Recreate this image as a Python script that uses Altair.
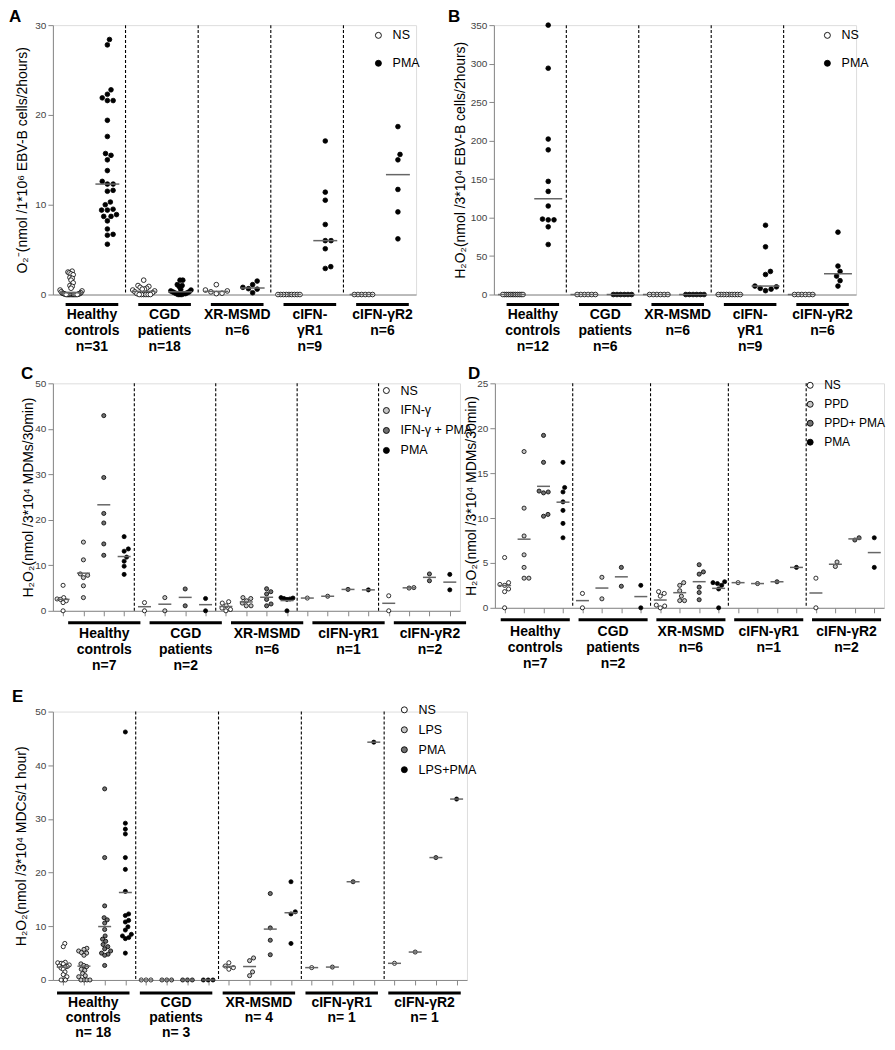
import math
import altair as alt
import pandas as pd

FONT = "Liberation Sans"

# ---------------- Panel A : O2- EBV-B cells ----------------
A_groups = ["Healthy\ncontrols\nn=31", "CGD\npatients\nn=18", "XR-MSMD\nn=6", "cIFN-\nγR1\nn=9", "cIFN-γR2\nn=6"]
A_conds = ["NS", "PMA"]
A_NS = [
    [2.6, 2.5, 2.4, 2.3, 2.2, 1.9, 1.8, 1.6, 1.3, 1.0, 0.9, 0.7, 0.5, 0.4, 0.3, 0.2,
     0.15, 0.1, 0.1, 0.05, 0.05, 0, 0, 0, 0, 0, 0, 0, 0, 0, 0],
    [1.6, 1.0, 0.9, 0.8, 0.7, 0.6, 0.6, 0.5, 0.4, 0.3, 0.2, 0.1, 0, 0, 0, 0, 0, 0],
    [1.1, 0.5, 0.4, 0.3, 0.15, 0.1],
    [0, 0, 0, 0, 0, 0, 0, 0, 0],
    [0, 0, 0, 0, 0, 0],
]
A_PMA = [
    [28.4, 27.8, 22.8, 22.3, 21.9, 21.6, 21.6, 19.4, 17.6, 15.7, 15.5, 15.0, 13.8, 12.6, 12.3, 12.3,
     11.6, 11.5, 10.3, 10.0, 9.5, 9.4, 9.4, 8.9, 8.7, 8.7, 8.2, 7.3, 6.7, 6.6, 5.6],
    [1.6, 1.6, 1.1, 1.0, 0.9, 0.6, 0.5, 0.4, 0.3, 0.3, 0.2, 0.2, 0.1, 0.1, 0.1, 0, 0, 0],
    [1.5, 1.1, 0.8, 0.65, 0.6, 0.2],
    [17.1, 11.4, 10.5, 7.8, 6.0, 6.0, 5.1, 3.1, 2.9],
    [18.7, 15.6, 15.0, 11.7, 9.2, 6.2],
]

# ---------------- Panel B : H2O2 EBV-B cells ----------------
B_groups = ["Healthy\ncontrols\nn=12", "CGD\npatients\nn=6", "XR-MSMD\nn=6", "cIFN-\nγR1\nn=9", "cIFN-γR2\nn=6"]
B_conds = ["NS", "PMA"]
B_NS = [
    [0, 0, 0, 0, 0, 0, 0, 0, 0, 0, 0, 0],
    [0, 0, 0, 0, 0, 0],
    [0, 0, 0, 0, 0, 0],
    [0, 0, 0, 0, 0, 0, 0, 0, 0],
    [0, 0, 0, 0, 0, 0],
]
B_PMA = [
    [350, 294, 202, 188, 147, 134, 115, 98, 97, 97, 88, 65],
    [0, 0, 0, 0, 0, 0],
    [0, 0, 0, 0, 0, 0],
    [90, 62, 30, 26, 11, 10, 8, 7, 5],
    [81, 37, 30, 24, 18, 11],
]

# ---------------- Panel C : H2O2 MDMs, IFN-gamma ----------------
C_groups = ["Healthy\ncontrols\nn=7", "CGD\npatients\nn=2", "XR-MSMD\nn=6", "cIFN-γR1\nn=1", "cIFN-γR2\nn=2"]
C_conds = ["NS", "IFN-γ", "IFN-γ + PMA", "PMA"]
C_NS = [[5.6, 2.9, 2.6, 2.5, 2.2, 1.8, 0], [1.8, 0], [2.0, 1.7, 1.1, 0.6, 0.3, 0], [2.8], [3.3, 0]]
C_IFN = [[15.1, 11.2, 8.1, 7.8, 7.3, 5.5, 2.9], [2.9, 0], [2.9, 2.7, 2.2, 1.7, 1.1, 1.1], [3.2], [5.0, 5.1]]
C_IFNPMA = [[42.9, 29.3, 21.4, 19.3, 14.7, 12.2], [4.8, 1.1], [4.85, 4.2, 3.7, 2.5, 1.5, 1.1], [4.7], [8.1, 6.6]]
C_PMA = [[16.3, 13.6, 13.1, 11.8, 10.9, 9.8, 8.0], [2.7, 0], [2.9, 2.8, 2.7, 2.6, 2.5, 0], [4.6], [8.0, 4.6]]

# ---------------- Panel D : H2O2 MDMs, PPD ----------------
D_groups = ["Healthy\ncontrols\nn=7", "CGD\npatients\nn=2", "XR-MSMD\nn=6", "cIFN-γR1\nn=1", "cIFN-γR2\nn=2"]
D_conds = ["NS", "PPD", "PPD+ PMA", "PMA"]
D_NS = [[5.6, 2.8, 2.6, 2.5, 2.1, 1.8, 0], [1.6, 0], [1.8, 1.6, 1.3, 0.3, 0.2, 0], [2.8], [3.3, 0]]
D_PPD = [[17.4, 11.1, 8.0, 5.9, 4.5, 3.3, 3.3], [3.4, 1.0], [2.8, 2.5, 1.9, 1.3, 0.8, 0.8], [2.7], [4.6, 5.1]]
D_PPDPMA = [[19.2, 16.2, 13.0, 12.9, 12.8, 10.4, 10.2], [4.5, 2.4], [4.8, 4.0, 3.75, 2.3, 1.7, 0.9], [2.9], [7.55, 7.8]]
D_PMA = [[16.2, 13.4, 12.9, 11.8, 10.85, 9.4, 7.8], [2.5, 0], [2.9, 2.8, 2.7, 2.5, 2.1, 0], [4.5], [7.8, 4.5]]

# ---------------- Panel E : H2O2 MDCs ----------------
E_groups = ["Healthy\ncontrols\nn= 18", "CGD\npatients\nn= 3", "XR-MSMD\nn= 4", "cIFN-γR1\nn= 1", "cIFN-γR2\nn= 1"]
E_conds = ["NS", "LPS", "PMA", "LPS+PMA"]
E_NS = [[6.8, 6.2, 3.3, 3.2, 3.1, 3.0, 2.8, 2.6, 2.5, 2.4, 2.2, 2.0, 1.5, 1.0, 0.6, 0, 0, 0],
        [0, 0, 0], [3.2, 2.6, 2.3, 2.0], [2.3], [3.1]]
E_LPS = [[5.9, 5.7, 5.4, 5.1, 5.0, 4.6, 3.0, 2.7, 2.5, 2.0, 1.8, 1.2, 0.8, 0.6, 0, 0, 0, 0],
         [0, 0, 0], [4.1, 3.6, 1.5, 0.8], [2.4], [5.2]]
E_PMA = [[35.6, 22.8, 13.8, 11.6, 11.2, 10.6, 9.4, 8.2, 7.6, 7.2, 6.6, 6.2, 5.8, 5.4, 5.0, 4.8, 4.6, 2.7],
         [0, 0, 0], [16.1, 9.7, 7.4, 4.7], [18.3], [22.8]]
E_LPSPMA = [[46.2, 29.2, 28.1, 27.2, 22.8, 20.6, 16.5, 12.3, 12.0, 11.1, 10.8, 9.9, 9.3, 8.5, 8.2, 7.9, 7.7, 5.0],
            [0, 0, 0], [18.3, 12.7, 12.3, 6.8], [44.3], [33.7]]

COL2 = ["white", "black"]
COL4 = ["white", "#c6c6c6", "#707070", "black"]


def swarm(vals, ypx, xpx, s, half):
    """Beeswarm offsets (in x data units) computed from the values."""
    order = sorted(range(len(vals)), key=lambda i: (vals[i], i))
    placed, off = [], [0.0] * len(vals)
    for i in order:
        y = vals[i] * ypx
        ivs = []
        for px, py in placed:
            dy = abs(y - py)
            if dy < s:
                dx = math.sqrt(s * s - dy * dy)
                ivs.append((px - dx, px + dx))
        cands = [0.0] + [e for iv in ivs for e in iv]
        cands.sort(key=lambda c: (round(abs(c), 6), -c))
        pick = 0.0
        for c in cands:
            if all(not (lo + 1e-6 < c < hi - 1e-6) for lo, hi in ivs):
                pick = c
                break
        placed.append((pick, y))
        off[i] = pick
    m = max([abs(o) for o in off] + [0])
    k = min(1.0, half / m) if m > 0 else 1.0
    return [o * k / xpx for o in off]


def panel(key, letter, groups, conds, colors, series, width, height, ymax, ystep, ytitle,
          agg, ticklen, xticks, psize, s_px, half_px, bar_lo, bar_hi, bar_dy, lab_dy,
          lab_fs, lab_lh, leg_x, leg_y, leg_rowpad, leg_fs, ytp, let_x, let_y):
    ncol = len(conds)
    ntot = ncol * len(groups)
    xpx = width / ntot
    ypx = height / ymax
    rows = []
    for ci, cond in enumerate(conds):
        for g, vals in enumerate(series[ci]):
            col = g * ncol + ci + 0.5
            offs = swarm(vals, ypx, xpx, s_px, half_px)
            for v, o in zip(vals, offs):
                rows.append({"cond" + key: cond, "col": col, "xpos": col + o, "value": v})
    df = pd.DataFrame(rows)
    seps = pd.DataFrame({"x": [ncol * g for g in range(1, len(groups))]})
    bars = pd.DataFrame({
        "x": [g * ncol + bar_lo for g in range(len(groups))],
        "x2": [g * ncol + bar_hi for g in range(len(groups))],
        "label": groups,
    })
    bars["xm"] = (bars["x"] + bars["x2"]) / 2

    xscale = alt.Scale(domain=[0, ntot], nice=False, zero=False)
    yscale = alt.Scale(domain=[0, ymax], nice=False)
    if xticks:
        xaxis = alt.Axis(values=[k + 0.5 for k in range(ntot)], labels=False, ticks=True, tickSize=5,
                         tickColor="#888", domainColor="#888", title=None, grid=False)
    else:
        xaxis = alt.Axis(labels=False, ticks=False, domainColor="#888", title=None, grid=False)
    yaxis = alt.Axis(values=list(range(0, ymax + 1, ystep)), title=ytitle, titleFont=FONT,
                     titleFontSize=14, titleFontWeight="normal", titleColor="black", titlePadding=ytp,
                     labelFont=FONT, labelFontSize=10, labelColor="#444", labelPadding=2,
                     tickSize=5, tickColor="#888", domainColor="#888", grid=False)

    def X(f):
        return alt.X(f, type="quantitative", scale=xscale, axis=xaxis)

    def Y(f):
        return alt.Y(f, type="quantitative", scale=yscale, axis=yaxis)

    base = alt.Chart(df)
    sep = alt.Chart(seps).mark_rule(color="black", strokeDash=[3, 2], strokeWidth=1.1).encode(
        x=X("x"), y=alt.value(0), y2=alt.value(height))
    pts = base.mark_point(filled=True, size=psize, stroke="black", strokeWidth=0.8, opacity=1).encode(
        x=X("xpos"), y=Y("value"),
        fill=alt.Fill("cond" + key, type="nominal", scale=alt.Scale(domain=conds, range=colors),
                      legend=alt.Legend(orient="none", legendX=leg_x, legendY=leg_y, title=None,
                                        labelFont=FONT, labelFontSize=leg_fs, labelColor="black",
                                        symbolType="circle", symbolSize=36, symbolStrokeColor="black",
                                        symbolStrokeWidth=0.9, rowPadding=leg_rowpad, padding=0,
                                        labelOffset=8)))
    mid = base.mark_tick(orient="horizontal", size=ticklen, thickness=1.5, color="#666").encode(
        x=X("col"), y=alt.Y(f"{agg}(value)", type="quantitative", scale=yscale, axis=yaxis))
    bar = alt.Chart(bars).mark_rule(color="black", strokeWidth=3).encode(
        x=X("x"), x2="x2", y=alt.value(height + bar_dy))
    lab = alt.Chart(bars).mark_text(font=FONT, fontSize=lab_fs, fontWeight="bold", align="center",
                                    baseline="alphabetic", lineBreak="\n", lineHeight=lab_lh,
                                    color="black").encode(
        x=X("xm"), y=alt.value(height + lab_dy), text="label:N")
    let = alt.Chart(pd.DataFrame({"letter": [letter]})).mark_text(
        font=FONT, fontSize=17, fontWeight="bold", align="left", baseline="top", color="black").encode(
        x=alt.value(let_x), y=alt.value(let_y), text="letter:N")
    return alt.layer(sep, pts, mid, bar, lab, let).properties(width=width, height=height)


A = panel("A", "A", A_groups, A_conds, COL2, [A_NS, A_PMA], 364, 270, 30, 10,
          "O₂⁻(nmol /1*10⁶ EBV-B cells/2hours)", "median", 24, False, 22, 5.8, 11, 0.35, 1.8, 10, 25,
          14, 16, 320, 4, 15, 12.5, 5, -44, -16)
B = panel("B", "B", B_groups, B_conds, COL2, [B_NS, B_PMA], 363, 270, 350, 50,
          "H₂O₂(nmol /3*10⁴ EBV-B cells/2hours)", "median", 28, False, 22, 5.8, 11, 0.35, 1.8, 10, 25,
          14, 16, 328, 4, 15, 12.5, 3, -46, -16)
C = panel("C", "C", C_groups, C_conds, COL4, [C_NS, C_IFN, C_IFNPMA, C_PMA], 408, 228, 50, 10,
          "H₂O₂(nmol /3*10⁴ MDMs/30min)", "mean", 13, True, 17, 4.8, 6, 0.75, 4.3, 12, 27,
          14, 16, 328, 1, 7, 12.5, -1, -32, -17)
D = panel("D", "D", D_groups, D_conds, COL4, [D_NS, D_PPD, D_PPDPMA, D_PMA], 390, 225, 25, 5,
          "H₂O₂(nmol /3*10⁴ MDMs/30min)", "mean", 13, True, 17, 4.8, 6, 0.3, 3.85, 12, 28,
          14, 16, 310, -4, 7, 12, -2, -27, -17)
E = panel("E", "E", E_groups, E_conds, COL4, [E_NS, E_LPS, E_PMA, E_LPSPMA], 415, 269, 50, 10,
          "H₂O₂(nmol /3*10⁴ MDCs/1 hour)", "mean", 13, True, 17, 4.8, 6, 0.2, 3.7, 13, 27,
          14, 15, 346, -8, 7, 12.5, 6, -41, -23)


def ind(c):
    return c.resolve_scale(fill="independent").resolve_legend(fill="independent")


row1 = ind(alt.hconcat(A, B, spacing=78, bounds="flush"))
row2 = ind(alt.hconcat(C, D, spacing=35, bounds="flush"))
top = ind(alt.vconcat(row1, row2, spacing=9))
chart = ind(alt.vconcat(top, E, spacing=13)).properties(
    padding={"left": 0, "top": -2, "right": 0, "bottom": -3}
).configure_view(stroke=None).configure(font=FONT)

chart.save("out.html", embed_options={"renderer": "svg", "actions": False})
